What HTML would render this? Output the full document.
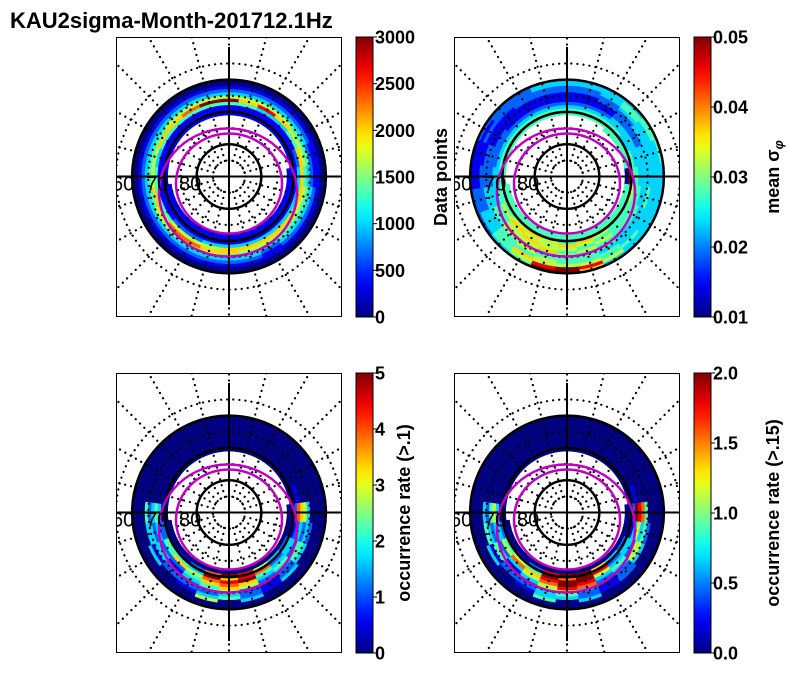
<!DOCTYPE html>
<html><head><meta charset="utf-8"><style>
html,body{margin:0;padding:0;background:#fff;}
svg{display:block;font-family:"Liberation Sans",sans-serif;}
</style></head><body>
<svg id="fig" width="796" height="674" viewBox="0 0 796 674">
<text x="10" y="28" font-size="22" font-weight="bold">KAU2sigma-Month-201712.1Hz</text>
</svg>
<script>
// Lat bins 60..71 (rows), 24 MLT sectors clockwise from top (cols). Levels 0-9 ('.' = no data)
const latBins = [60,61,62,63,64,65,66,67,68,69,70,71];
const dataPoints = [
"000000000000000000000000",
"000000000000000000000000",
"111111111111111111111111",
"222221122212222222222222",
"333332233323333333333333",
"555544344434455554444555",
"968655455555667766556679",
"443346666666655544434444",
"111112333333332211111111",
"111111111111111111111111",
"111111111111111111111111",
"......111111111111......"];
const meanSigma = [
"333344333336994322112223",
"333443333358985432111223",
"223433333445556432112222",
"222333333344454432211122",
"112233343334445433221111",
"111223333344545543221111",
"111223334445465543222111",
"222333344454556543322222",
"333333444445655654333333",
"444434454456456544444444",
"444444944444444444444444",
"...444044444444444......"];
const occRate1 = [
"000000000000000000000000",
"000000000000000000000000",
"000000000003050000000000",
"000000000312431030000000",
"000000023212322213400000",
"000000334212542233200000",
"000000524325643132300000",
"000000632436764223400000",
"000001723349875642300000",
"000000213278693442000000",
"000000002358972100000000",
"......000000000000......"];
const occRate2 = [
"000000000000000000000000",
"000000000000000000000000",
"000000000003040000000000",
"000000000212331030000000",
"000000023212432214300000",
"000000445213652243200000",
"000000735327853142400000",
"000000852438975323500000",
"000001933359986753300000",
"000000213289794542000000",
"000000002369982100000000",
"......000000000000......"];
const cbTicks1 = ["0","500","1000","1500","2000","2500","3000"];
const cbTicks2 = ["0.01","0.02","0.03","0.04","0.05"];
const cbTicks3 = ["0","1","2","3","4","5"];
const cbTicks4 = ["0.0","0.5","1.0","1.5","2.0"];
const latLabels = ["60","70","80"];

const NS="http://www.w3.org/2000/svg";
const svg=document.getElementById('fig');
function mk(t,a,p){const e=document.createElementNS(NS,t);for(const k in a)e.setAttribute(k,a[k]);(p||svg).appendChild(e);return e;}
function jet(t){t=Math.max(0,Math.min(1,t));const c=v=>Math.round(255*Math.max(0,Math.min(1,v)));
return `rgb(${c(1.5-Math.abs(4*t-3))},${c(1.5-Math.abs(4*t-2))},${c(1.5-Math.abs(4*t-1))})`;}
const PX=3.23;
function rOf(lat){return (90-lat)*PX;}
function pt(cx,cy,r,deg){const a=deg*Math.PI/180;return [cx+r*Math.sin(a),cy-r*Math.cos(a)];}
const defs=mk('defs',{});
const grad=mk('linearGradient',{id:'jetg',x1:0,y1:1,x2:0,y2:0},defs);
for(let i=0;i<=20;i++)mk('stop',{offset:i/20,'stop-color':jet(i/20)},grad);

const panels=[
 {x:116,y:37,data:dataPoints,ticks:cbTicks1,label:"Data points",lx:441,name:'data-points'},
 {x:454,y:37,data:meanSigma,ticks:cbTicks2,label:"mean σ",sub:"φ",lx:773,name:'mean-sigma'},
 {x:116,y:373,data:occRate1,ticks:cbTicks3,label:"occurrence rate (>.1)",lx:404,name:'occurrence-rate-01'},
 {x:454,y:373,data:occRate2,ticks:cbTicks4,label:"occurrence rate (>.15)",lx:773,name:'occurrence-rate-015'}];
const W=226,H=280;
panels.forEach((p,pi)=>{
 const g=mk('g',{});
 
 
 const cp=mk('clipPath',{id:'cp'+pi},defs);mk('rect',{x:p.x,y:p.y,width:W,height:H},cp);
 const inner=mk('g',{'clip-path':`url(#cp${pi})`},g);
 const cx=p.x+113,cy=p.y+139.5;
 p.data.forEach((row,ri)=>{
  const lat=latBins[ri],r1=rOf(lat),r0=rOf(lat+1);
  for(let c=0;c<row.length;c++){
   const ch=row[c];if(ch==='.')continue;
   const v=+ch/9;
   const a0=c*15-7.5,a1=c*15+7.5;
   const A=pt(cx,cy,r1,a0),B=pt(cx,cy,r1,a1),C=pt(cx,cy,r0,a1),D=pt(cx,cy,r0,a0);
   const e=mk('path',{d:`M${A}A${r1},${r1} 0 0 1 ${B}L${C}A${r0},${r0} 0 0 0 ${D}Z`,fill:jet(v),stroke:jet(v),'stroke-width':0.6},inner);
   
   
  }
 });
 [55,65,75,85].forEach(l=>{mk('circle',{cx,cy,r:rOf(l),fill:'none',stroke:'#000','stroke-width':2.2,'stroke-dasharray':'0.1 6','stroke-linecap':'round'},inner);});
 for(let k=0;k<24;k++){const A=pt(cx,cy,16,k*15),B=pt(cx,cy,170,k*15);
  mk('line',{x1:A[0],y1:A[1],x2:B[0],y2:B[1],stroke:'#000','stroke-width':2.2,'stroke-dasharray':'0.1 6','stroke-linecap':'round'},inner);}
 [60,70,80].forEach(l=>mk('circle',{cx,cy,r:rOf(l),fill:'none',stroke:'#000','stroke-width':2.5},inner));
 mk('line',{x1:cx,y1:p.y+10,x2:cx,y2:p.y+268,stroke:'#000','stroke-width':2},inner);
 mk('line',{x1:p.x,y1:cy,x2:p.x+W,y2:cy,stroke:'#000','stroke-width':2},inner);
 mk('ellipse',{cx:cx-1,cy:cy+16,rx:69,ry:64,fill:'none',stroke:'#c000c0','stroke-width':2.5},inner);
 mk('ellipse',{cx:cx,cy:cy+7,rx:53,ry:50,fill:'none',stroke:'#c000c0','stroke-width':2.5},inner);
 [[p.x-4],[p.x+30],[p.x+63]].forEach((xx,i)=>{const t=mk('text',{x:xx[0],y:cy+14,'font-size':20},inner);t.textContent=latLabels[i];
  });
 mk('rect',{x:p.x+0.5,y:p.y+0.5,width:W-1,height:H-1,fill:'none',stroke:'#000','stroke-width':1},g);
 const bx=p.x+240,bw=17;
 const cb=mk('rect',{x:bx,y:p.y,width:bw,height:H,fill:'url(#jetg)',stroke:'#000','stroke-width':1},g);
 
 const n=p.ticks.length-1;
 p.ticks.forEach((tk,i)=>{const yy=p.y+H-i*H/n;
  mk('line',{x1:bx+bw,y1:yy,x2:bx+bw+4,y2:yy,stroke:'#000','stroke-width':1},g);
  const t=mk('text',{x:bx+bw+2,y:yy+6.5,'font-size':18,'font-weight':'bold'},g);t.textContent=tk;
  });
 const lt=mk('text',{x:0,y:0,'font-size':18,'font-weight':'bold','text-anchor':'middle',transform:`translate(${p.lx+6},${p.y+140}) rotate(-90)`},g);
 lt.textContent=p.label;
 if(p.sub){const ts=mk('tspan',{'font-size':13,'font-style':'italic',dy:4},lt);ts.textContent=p.sub;}
 
});
</script>
</body></html>
